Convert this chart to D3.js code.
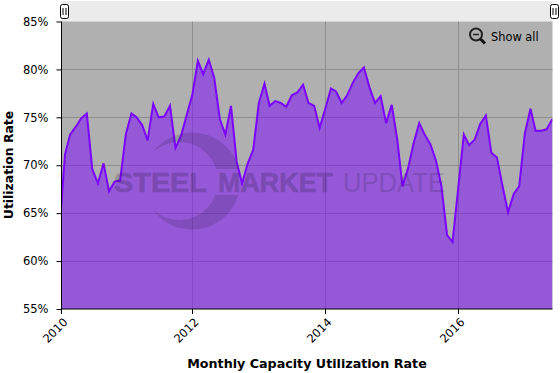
<!DOCTYPE html>
<html>
<head>
<meta charset="utf-8">
<script src="https://cdn.jsdelivr.net/npm/d3@7"></script>
<style>
html, body { margin: 0; padding: 0; background: #fff; }
svg { display: block; }
text { font-family: "DejaVu Sans", sans-serif; }
</style>
</head>
<body>
<div id="chart"></div>
<script>
const startMonth = [2009, 11]; // first reading lies just left of the plot and gets clipped
const utilization = [
    63.0,
    71.1, 73.2, 74.0, 74.9, 75.4, 69.6, 68.1, 70.2, 67.3, 68.3, 68.4, 73.2,
    75.4, 75.0, 74.2, 72.6, 76.4, 75.0, 75.1, 76.2, 71.8, 73.1, 75.2, 77.3,
    80.9, 79.5, 81.0, 79.1, 74.8, 73.2, 76.2, 70.4, 68.1, 70.2, 71.6, 76.5,
    78.5, 76.2, 76.7, 76.5, 76.1, 77.3, 77.6, 78.4, 76.5, 76.2, 73.9, 75.9,
    78.0, 77.7, 76.5, 77.3, 78.6, 79.6, 80.2, 78.1, 76.5, 77.2, 74.4, 76.3,
    72.6, 67.8, 69.7, 72.3, 74.4, 73.2, 72.2, 70.5, 67.8, 62.7, 62.0, 67.6,
    73.2, 72.1, 72.7, 74.3, 75.2, 71.3, 70.8, 67.8, 65.1, 67.0, 67.8, 73.3,
    75.9, 73.6, 73.6, 73.75, 74.8
];
const yTicks = [55, 60, 65, 70, 75, 80, 85];
const xTickYears = [2010, 2012, 2014, 2016];
const yTitle = "Utilization Rate";
const xTitle = "Monthly Capacity Utilization Rate";

const width = 560, height = 373;
const plot = { left: 61.5, right: 552.5, top: 21.5, bottom: 309 };

// month end dates, Date.UTC rolls day 0 back to the last day of the month
const dates = utilization.map((d, i) => new Date(Date.UTC(startMonth[0], startMonth[1] + i + 1, 0)));

const domainStart = new Date(Date.UTC(2010, 0, 12));
const x = d3.scaleUtc()
    .domain([domainStart, new Date(Date.UTC(2017, 5, 1))])
    .range([plot.left, plot.right]);
const y = d3.scaleLinear().domain([55, 85]).range([plot.bottom, plot.top]);

const svg = d3.select("#chart").append("svg")
    .attr("width", width)
    .attr("height", height);

svg.append("clipPath").attr("id", "plotClip")
    .append("rect")
    .attr("x", plot.left).attr("y", plot.top)
    .attr("width", plot.right - plot.left).attr("height", plot.bottom - plot.top);

/* navigator band and plot background */
svg.append("rect")
    .attr("x", plot.left).attr("y", 1)
    .attr("width", plot.right - plot.left).attr("height", 20.5)
    .attr("fill", "#ebebeb");
svg.append("rect")
    .attr("x", plot.left).attr("y", plot.top)
    .attr("width", plot.right - plot.left).attr("height", plot.bottom - plot.top)
    .attr("fill", "#b0b0b0");

/* grid, the 2010 tick is pulled onto the axis start */
const xTicks = xTickYears.map(d => new Date(Math.max(Date.UTC(d, 0, 1), domainStart)));
const snapX = d => Math.floor(x(d)) + 0.5;
const grid = svg.append("g").attr("stroke", "#8e8e8e").attr("stroke-width", 1);
grid.selectAll("line.h").data(yTicks.slice(1, -1)).join("line")
    .attr("class", "h")
    .attr("x1", plot.left).attr("x2", plot.right)
    .attr("y1", d => Math.round(y(d)) + 0.5).attr("y2", d => Math.round(y(d)) + 0.5);
grid.selectAll("line.v").data(xTicks.slice(1)).join("line")
    .attr("class", "v")
    .attr("y1", plot.top).attr("y2", plot.bottom)
    .attr("x1", snapX).attr("x2", snapX);

/* series */
const series = svg.append("g").attr("clip-path", "url(#plotClip)");
const area = d3.area().x((d, i) => x(dates[i])).y0(plot.bottom).y1(d => y(d));
const line = d3.line().x((d, i) => x(dates[i])).y(d => y(d));
series.append("path").datum(utilization)
    .attr("d", area)
    .attr("fill", "#7a02ff")
    .attr("fill-opacity", 0.5);
series.append("path").datum(utilization)
    .attr("d", line)
    .attr("fill", "none")
    .attr("stroke", "#7a02ff")
    .attr("stroke-width", 2);

/* watermark logo, the ring stops where the wordmark runs through it */
const ringClip = svg.append("clipPath").attr("id", "ringClip");
ringClip.append("rect").attr("x", 140).attr("y", 125).attr("width", 110).attr("height", 44);
ringClip.append("rect").attr("x", 140).attr("y", 195).attr("width", 110).attr("height", 40);

const mark = svg.append("g").attr("fill", "#000");
mark.append("path")
    .attr("clip-path", "url(#ringClip)")
    .attr("opacity", 0.13)
    .attr("d", "M153.5,151.5 A48.5,48.5 0 1 1 153.5,210.5 A39,39 0 1 0 153.5,151.5 Z");

const wordmark = [
    { text: "STEEL", x: 114, len: 93, weight: "bold", opacity: 0.17, stroke: 0.7 },
    { text: "MARKET", x: 218, len: 115, weight: "bold", opacity: 0.17, stroke: 0.7 },
    { text: "UPDATE", x: 343, len: 102, weight: "normal", opacity: 0.13, stroke: 0 }
];
mark.selectAll("text").data(wordmark).join("text")
    .attr("x", d => d.x)
    .attr("y", 191.5)
    .attr("font-size", 27.5)
    .attr("font-weight", d => d.weight)
    .attr("opacity", d => d.opacity)
    .attr("stroke", "#000")
    .attr("stroke-width", d => d.stroke)
    .attr("textLength", d => d.len)
    .attr("lengthAdjust", "spacingAndGlyphs")
    .style("font-family", "'Liberation Sans', sans-serif")
    .text(d => d.text);

/* axes */
const yAxis = d3.axisLeft(y).tickValues(yTicks).tickSize(5).tickPadding(8).tickFormat(d => d + "%");
const xAxis = d3.axisBottom(x).tickValues(xTicks).tickSize(5).tickFormat(d => d.getUTCFullYear());

const gy = svg.append("g").attr("transform", `translate(${plot.left},0)`).call(yAxis);
gy.select(".domain").attr("stroke", "#000").attr("d", `M0,${plot.top}V${plot.bottom}`);
gy.selectAll("text").attr("font-size", 11.5).attr("fill", "#000");

const gx = svg.append("g").attr("transform", `translate(0,${plot.bottom})`).call(xAxis);
gx.select(".domain").attr("stroke", "#000").attr("d", `M${plot.left},0H${plot.right}`);
gx.selectAll(".tick").attr("transform", d => `translate(${snapX(d)},0)`);
gx.selectAll("text")
    .attr("font-size", 11.5)
    .attr("fill", "#000")
    .attr("text-anchor", "end")
    .attr("transform", "translate(4,11) rotate(-45)")
    .attr("dy", "0.35em")
    .attr("y", 0);

svg.append("text")
    .attr("transform", "translate(13,165) rotate(-90)")
    .attr("text-anchor", "middle")
    .attr("font-size", 12.4)
    .attr("font-weight", "bold")
    .text(yTitle);
svg.append("text")
    .attr("x", 307).attr("y", 368)
    .attr("text-anchor", "middle")
    .attr("font-size", 12.7)
    .attr("font-weight", "bold")
    .text(xTitle);

/* show all button */
const zoomIcon = svg.append("g").attr("transform", "translate(476,34.5)");
zoomIcon.append("circle").attr("r", 6).attr("fill", "#b0b0b0").attr("stroke", "#222").attr("stroke-width", 2);
zoomIcon.append("line").attr("x1", -3).attr("x2", 3).attr("stroke", "#222").attr("stroke-width", 1.5);
zoomIcon.append("line").attr("x1", 4.5).attr("y1", 4.5).attr("x2", 9).attr("y2", 9)
    .attr("stroke", "#111").attr("stroke-width", 3);
svg.append("text").attr("x", 491).attr("y", 41)
    .attr("font-size", 11.4).attr("fill", "#000")
    .text("Show all");

/* navigator handles */
const handles = svg.selectAll("g.handle").data([plot.left + 2, plot.right + 1]).join("g")
    .attr("class", "handle")
    .attr("transform", d => `translate(${Math.round(d)},0)`);
handles.append("rect")
    .attr("x", -3.5).attr("y", 4.5).attr("width", 8).attr("height", 14).attr("rx", 2)
    .attr("fill", "#fff").attr("stroke", "#000");
handles.selectAll("line").data([-1, 2]).join("line")
    .attr("x1", d => d).attr("x2", d => d)
    .attr("y1", 8).attr("y2", 15)
    .attr("stroke", "#000");
</script>
</body>
</html>
